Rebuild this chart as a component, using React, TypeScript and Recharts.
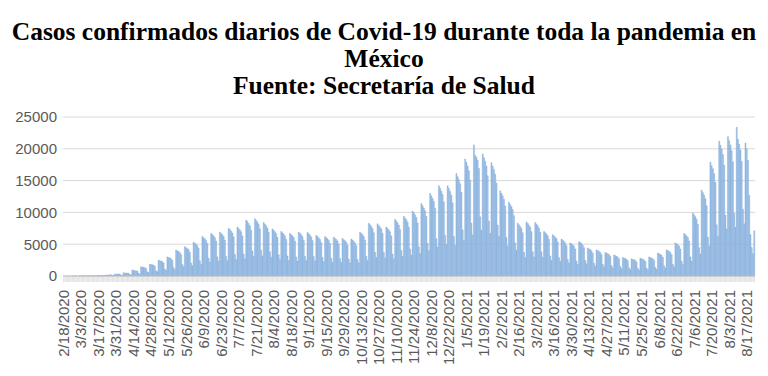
import { Bar, BarChart, CartesianGrid, XAxis, YAxis } from 'recharts';

// daily confirmed cases, first partial days then one row per week
const startDays = [0, 0, 0, 0, 0, 0];
const wave1 = [
  [0, 1, 0, 1, 1, 0, 0],
  [2, 1, 3, 2, 3, 1, 1],
  [5, 7, 9, 14, 12, 6, 4],
  [40, 55, 60, 70, 80, 30, 25],
  [150, 140, 160, 180, 200, 90, 70],
  [300, 290, 280, 320, 300, 150, 120],
  [500, 480, 460, 450, 420, 230, 180],
  [950, 880, 850, 800, 760, 430, 330],
  [1450, 1400, 1350, 1300, 1200, 650, 500],
  [1850, 1800, 1750, 1700, 1550, 830, 650],
  [2500, 2400, 2350, 2250, 2050, 1100, 880],
  [3000, 2900, 2850, 2700, 2450, 1350, 1050],
  [4100, 3950, 3850, 3700, 3350, 1850, 1450],
  [4600, 4450, 4300, 4150, 3750, 2050, 1600],
  [5300, 5150, 5000, 4750, 4350, 2400, 1850],
  [6200, 6000, 5850, 5600, 5100, 2800, 2200],
  [6700, 6500, 6300, 6050, 5500, 3000, 2350],
  [6900, 6700, 6500, 6200, 5650, 3100, 2400],
  [7500, 7300, 7050, 6750, 6150, 3400, 2600],
  [7700, 7450, 7250, 6950, 6300, 3450, 2700],
  [8800, 8550, 8250, 7900, 7200, 3950, 3100],
  [9000, 8750, 8450, 8100, 7400, 4050, 3150],
  [8400, 8150, 7900, 7550, 6900, 3800, 2950],
  [7400, 7200, 6950, 6650, 6050, 3350, 2600],
  [7000, 6800, 6600, 6300, 5750, 3150, 2450],
  [6700, 6500, 6300, 6050, 5500, 3000, 2350],
  [6900, 6700, 6500, 6200, 5650, 3100, 2400],
  [6850, 6650, 6450, 6150, 5600, 3050, 2400],
  [6400, 6200, 6000, 5750, 5250, 2900, 2250],
  [6200, 6000, 5850, 5600, 5100, 2800, 2150],
  [6100, 5900, 5750, 5500, 5000, 2750, 2150],
  [5900, 5700, 5550, 5300, 4850, 2650, 2050],
  [5800, 5650, 5450, 5200, 4750, 2600, 2050],
];
const wave2 = [
  [6900, 6700, 6500, 6200, 5650, 3100, 2400],
  [8300, 8050, 7800, 7450, 6800, 3750, 2900],
  [8200, 7950, 7700, 7400, 6700, 3700, 2850],
  [7700, 7450, 7250, 6950, 6300, 3450, 2700],
  [8900, 8650, 8350, 8000, 7300, 4000, 3100],
  [9400, 9100, 8850, 8450, 7700, 4250, 3300],
  [10200, 9900, 9600, 9200, 8350, 4600, 3550],
  [11400, 11050, 10700, 10250, 9350, 5150, 4000],
  [13000, 12600, 12200, 11700, 10650, 5850, 4550],
  [14200, 13800, 13350, 12800, 11650, 6400, 4950],
  [14200, 13750, 13300, 12700, 11500, 6200, 4800],
  [16100, 15600, 15150, 14500, 13200, 7250, 5650],
  [18400, 17850, 17300, 16550, 15100, 8300, 6450],
  [20600, 19000, 18700, 18200, 16900, 9300, 7200],
  [19200, 18600, 18050, 17300, 15750, 8650, 6700],
  [17800, 17250, 16750, 16000, 14600, 8000, 6250],
  [13400, 13000, 12600, 12050, 11000, 6050, 4700],
  [11600, 11250, 10900, 10450, 9500, 5200, 4050],
  [8300, 8050, 7800, 7450, 6800, 3750, 2900],
  [8500, 8250, 8000, 7650, 6950, 3800, 3000],
  [8400, 8150, 7900, 7550, 6900, 3800, 2950],
  [7000, 6800, 6600, 6300, 5750, 3150, 2450],
  [6500, 6300, 6100, 5850, 5350, 2900, 2300],
  [5800, 5650, 5450, 5200, 4750, 2600, 2050],
  [5200, 5050, 4900, 4700, 4250, 2350, 1800],
  [5400, 5250, 5100, 4850, 4450, 2450, 1900],
  [4400, 4250, 4150, 3950, 3600, 2000, 1550],
  [4100, 4000, 3850, 3700, 3350, 1850, 1450],
  [3700, 3600, 3500, 3350, 3050, 1650, 1300],
  [3300, 3200, 3100, 2950, 2700, 1500, 1150],
  [2900, 2800, 2750, 2600, 2400, 1300, 1000],
  [2700, 2600, 2550, 2450, 2200, 1200, 950],
  [2800, 2700, 2650, 2500, 2300, 1250, 1000],
];
const wave3 = [
  [3000, 2900, 2800, 2700, 2450, 1350, 1050],
  [3600, 3500, 3400, 3250, 2950, 1600, 1250],
  [4100, 4000, 3850, 3700, 3350, 1850, 1450],
  [5200, 5050, 4900, 4700, 4250, 2350, 1800],
  [6700, 6500, 6300, 6050, 5500, 3000, 2350],
  [9900, 9600, 9300, 8900, 8100, 4450, 3450],
  [13500, 13100, 12700, 12150, 11050, 6100, 4700],
  [17900, 17350, 16850, 16100, 14700, 8050, 6250],
  [21200, 20550, 19950, 19100, 17400, 9550, 7400],
  [21900, 21250, 20600, 19700, 17950, 9850, 7650],
  [23400, 21500, 20700, 19800, 18000, 10500, 8200],
  [20900, 20000, 18200, 12700, 6500, 4500, 3500],
];
const endDays = [7100];

const tickLabels = [
  '2/18/2020', '3/3/2020', '3/17/2020', '3/31/2020', '4/14/2020', '4/28/2020',
  '5/12/2020', '5/26/2020', '6/9/2020', '6/23/2020', '7/7/2020', '7/21/2020',
  '8/4/2020', '8/18/2020', '9/1/2020', '9/15/2020', '9/29/2020', '10/13/2020',
  '10/27/2020', '11/10/2020', '11/24/2020', '12/8/2020', '12/22/2020', '1/5/2021',
  '1/19/2021', '2/2/2021', '2/16/2021', '3/2/2021', '3/16/2021', '3/30/2021',
  '4/13/2021', '4/27/2021', '5/11/2021', '5/25/2021', '6/8/2021', '6/22/2021',
  '7/6/2021', '7/20/2021', '8/3/2021', '8/17/2021',
];
const yTicks = [0, 5000, 10000, 15000, 20000, 25000];

const casos = [
  ...startDays,
  ...wave1.flat(),
  ...wave2.flat(),
  ...wave3.flat(),
  ...endDays,
];

const data = casos.map((value, i) => {
  const d = new Date(Date.UTC(2020, 1, 18 + i));
  const date = `${d.getUTCMonth() + 1}/${d.getUTCDate()}/${d.getUTCFullYear()}`;
  return { date, value };
});

const labelSet = new Set(tickLabels);

// a short mark under every day, text only every two weeks
function DateTick(props: any) {
  const { x, y, payload } = props;
  const ty = y + 14;
  return (
    <g>
      <line x1={x} x2={x} y1={y} y2={y + 6} stroke="#cfcfcf" strokeWidth={0.6} />
      {labelSet.has(payload.value) && (
        <text
          x={x}
          y={ty}
          transform={`rotate(-90 ${x} ${ty})`}
          textAnchor="end"
          dy="0.35em"
          fontSize={15}
          fill="#595959"
          fontFamily="'Liberation Sans', Arial, sans-serif"
        >
          {payload.value}
        </text>
      )}
    </g>
  );
}

export default function App() {
  return (
    <div
      style={{
        position: 'absolute',
        left: 0,
        top: 0,
        width: 768,
        height: 376,
        background: '#fff',
        overflow: 'hidden',
      }}
    >
      <div
        style={{
          position: 'absolute',
          top: 18,
          left: 0,
          width: 768,
          textAlign: 'center',
          fontFamily: "'Liberation Serif', 'Times New Roman', serif",
          fontWeight: 'bold',
          fontSize: 25.5,
          lineHeight: '27px',
          color: '#000',
          whiteSpace: 'nowrap',
        }}
      >
        <div>Casos confirmados diarios de Covid-19 durante toda la pandemia en</div>
        <div>México</div>
        <div>Fuente: Secretaría de Salud</div>
      </div>
      <div style={{ position: 'absolute', top: 100, left: 0 }}>
        <BarChart
          width={768}
          height={276}
          data={data}
          margin={{ top: 17, right: 13, bottom: 0, left: 8 }}
          barCategoryGap={0}
          barGap={0}
        >
          <CartesianGrid vertical={false} stroke="#d9d9d9" />
          <XAxis
            dataKey="date"
            interval={0}
            height={100}
            axisLine={{ stroke: '#bfbfbf' }}
            tickLine={false}
            tickSize={0}
            tickMargin={0}
            tick={<DateTick />}
          />
          <YAxis
            width={55}
            domain={[0, 25000]}
            ticks={yTicks}
            axisLine={false}
            tickLine={false}
            tickSize={0}
            tickMargin={6}
            tick={{ fontSize: 15, fill: '#595959', fontFamily: "'Liberation Sans', Arial, sans-serif" }}
          />
          <Bar
            dataKey="value"
            fill="#a9c8ea"
            stroke="#6f9fd3"
            strokeWidth={0.4}
            isAnimationActive={false}
          />
        </BarChart>
      </div>
    </div>
  );
}
